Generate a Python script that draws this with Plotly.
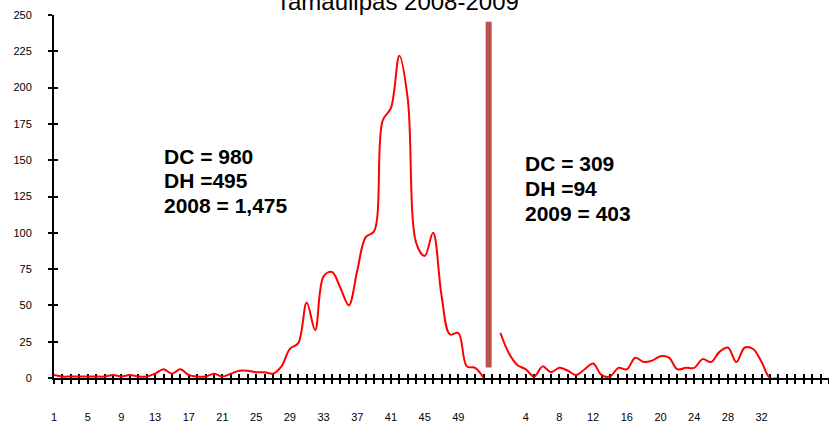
import plotly.graph_objects as go

# weekly counts
weeks_2008 = list(range(1, 53))
cases_2008 = [2, 1, 1, 1, 1, 1, 1, 2, 1, 2, 1, 1, 3, 6, 3, 6, 2, 1, 1, 3,
              1, 3, 5, 5, 4, 4, 3, 8, 20, 24, 52, 33, 70, 73, 62, 50, 74, 97, 101, 177,
              186, 222, 192, 93, 84, 100, 57, 30, 31, 8, 7, 0]
weeks_2009 = list(range(1, 35))
cases_2009 = [31, 17, 9, 6, 1, 8, 4, 7, 5, 2, 6, 10, 2, 1, 7, 6, 14, 11, 12, 15,
              14, 6, 7, 7, 13, 11, 18, 21, 11, 21, 20, 11, 0, 0]

text_2008 = ["DC = 980", "DH =495", "2008 = 1,475"]
text_2009 = ["DC = 309", "DH =94", "2009 = 403"]
title = "Tamaulipas 2008-2009"

# category slots: 2008 weeks, one empty slot, 2009 weeks, then empty slots
n_trailing = 6
labels = [str(w) for w in weeks_2008] + [""] + [str(w) for w in weeks_2009] + [""] * n_trailing
pos = list(range(len(labels)))
x_2008 = pos[:len(weeks_2008)]
x_2009 = pos[len(weeks_2008) + 1:len(weeks_2008) + 1 + len(weeks_2009)]
ticktext = [lab if i % 4 == 0 else "" for i, lab in enumerate(labels)]

FONT = "Liberation Sans, Arial, sans-serif"
RED = "#FF0000"

fig = go.Figure()
fig.add_trace(go.Scatter(x=x_2008, y=cases_2008, mode="lines",
                         line=dict(color=RED, width=2, shape="spline"),
                         cliponaxis=False, showlegend=False, hoverinfo="skip"))
fig.add_trace(go.Scatter(x=x_2009, y=cases_2009, mode="lines",
                         line=dict(color=RED, width=2, shape="spline"),
                         cliponaxis=False, showlegend=False, hoverinfo="skip"))

# separator between the two years
fig.add_shape(type="line", xref="x", yref="y", x0=51.6, x1=51.6, y0=7.3, y1=245.4,
              line=dict(color="#C0504D", width=6))

x_range = [0, 92]
axis_common = dict(showgrid=False, zeroline=False, linecolor="black", linewidth=2,
                   tickcolor="black", tickwidth=2, ticklen=4, layer="below traces",
                   automargin=False)

fig.update_layout(
    width=829, height=423,
    margin=dict(l=54, r=0, t=15, b=45),
    paper_bgcolor="white", plot_bgcolor="white",
    font=dict(family=FONT, color="black", size=11),
    xaxis=dict(range=x_range, tickmode="array", tickvals=pos, ticktext=ticktext,
               ticks="outside", showline=True, ticklabelstandoff=24,
               tickfont=dict(size=11), **axis_common),
    xaxis2=dict(range=x_range, overlaying="x", side="bottom", anchor="y",
                tickmode="array", tickvals=pos, ticks="inside", showticklabels=False,
                showline=False, **axis_common),
    yaxis=dict(range=[0, 250], tickmode="linear", tick0=0, dtick=25,
               ticks="outside", showline=True, ticklabelstandoff=14,
               tickfont=dict(size=11), **axis_common),
    yaxis2=dict(range=[0, 250], overlaying="y", side="left", anchor="x",
                tickmode="linear", tick0=0, dtick=25, ticks="inside",
                showticklabels=False, showline=False, **axis_common),
)
# invisible trace so the overlay axes are drawn
fig.add_trace(go.Scatter(x=[x_range[0]], y=[0], xaxis="x2", yaxis="y2", mode="markers",
                         marker=dict(opacity=0), showlegend=False, hoverinfo="skip"))

fig.add_annotation(text=title, xref="paper", yref="paper", x=0.443, y=1.0,
                   xanchor="center", yanchor="bottom", showarrow=False, yshift=-2,
                   font=dict(family=FONT, size=24, color="black"))

plot_top, plot_h = 15, 363
for i, t in enumerate(text_2008):
    y_px = 156.5 + 24.5 * i
    fig.add_annotation(text="<b>" + t + "</b>", xref="paper", yref="paper",
                       x=(162 - 54) / 775, y=1 - (y_px - plot_top) / plot_h,
                       xanchor="left", yanchor="middle", showarrow=False,
                       font=dict(family=FONT, size=21, color="black"))
for i, t in enumerate(text_2009):
    y_px = 163.5 + 25 * i
    fig.add_annotation(text="<b>" + t + "</b>", xref="paper", yref="paper",
                       x=(523 - 54) / 775, y=1 - (y_px - plot_top) / plot_h,
                       xanchor="left", yanchor="middle", showarrow=False,
                       font=dict(family=FONT, size=21, color="black"))

fig.write_html("out.html", config={"displayModeBar": False},
               post_script="document.body.style.margin='0';")
